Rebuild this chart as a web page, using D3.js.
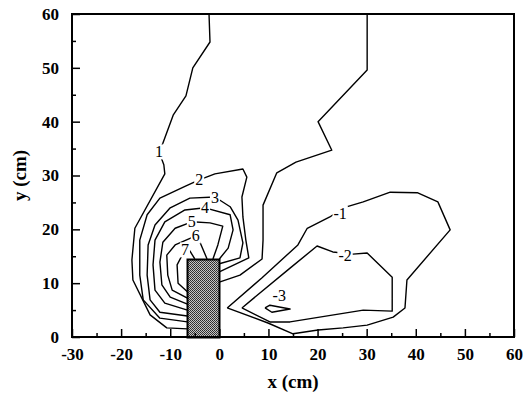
<!DOCTYPE html>
<html>
<head>
<meta charset="utf-8">
<script src="https://cdn.jsdelivr.net/npm/d3@7"></script>
<style>
  html, body { margin: 0; padding: 0; background: #fff; }
  svg { display: block; }
  text { -webkit-font-smoothing: antialiased; }
</style>
</head>
<body>
<svg id="chart" width="525" height="401"></svg>
<script>
// Axis ticks
const xTickValues = [-30, -20, -10, 0, 10, 20, 30, 40, 50, 60];
const yTickValues = [0, 10, 20, 30, 40, 50, 60];

// Obstacle block (x range and height, cm)
const blockX = [-6.5, 0];
const blockH = 14.5;

// Contour levels and their polylines [x, y] in cm
const contourLevels = [1, 1, 2, 3, 4, 5, 6, 7, -1, -2, -3];
const contour1Left = [[-2.1,60],[-1.9,54.8],[-5.4,50],[-6.8,44.8],[-9.4,41.2],[-11.5,36],[-12.3,34.4],[-11.3,32],[-11.1,30.3],[-17.2,20.2],[-17.8,14.3],[-17.6,10.6],[-14.1,4.1],[-10.7,1.7],[-6.5,1.5]];
const contour1Right = [[30.1,60],[30.1,49.6],[20.1,40],[22.9,34.7],[15.6,32.5],[11.7,30.5],[8.9,24.5],[8.9,18],[8.7,14.5],[4.2,11.5],[0,10.2]];
const contour2 = [[-6.5,2.8],[-12.1,3.5],[-15.5,6.9],[-16.2,11.5],[-16.2,18],[-14.7,22.7],[-12.1,25.8],[-7,28],[-4.1,29.2],[-0.9,30.3],[4.8,31.2],[5.6,29.7],[4.6,26],[4.8,22.3],[5.4,18],[6,14.7],[0,12.1]];
const contour3 = [[-6.5,3.9],[-12.1,4.6],[-14.1,6.9],[-14.7,11.5],[-14.5,17.1],[-13.1,20.8],[-10,24],[-6,25.8],[-0.9,26],[2.2,24.2],[3.8,21.7],[4.8,17.5],[4.2,14.7],[0,13.6]];
const contour4 = [[-6.5,5],[-11.1,6.3],[-13.1,8.7],[-13.5,13.4],[-13.1,18],[-11.1,21.4],[-7,23.6],[-2.9,24],[2.2,22.7],[2.8,19.9],[1.8,16.5],[0,14.5]];
const contour5 = [[-6.5,6.1],[-10,7.4],[-11.7,9.7],[-12.1,13.9],[-11.5,17.6],[-9,20.2],[-5.6,21.4],[-1.9,21.2],[0.7,20.6],[-0.3,17.1],[-1.3,14.5]];
const contour6 = [[-6.5,7.2],[-9.6,8.7],[-10.5,11.5],[-10.7,15.2],[-9,17.1],[-4.8,18.8],[-3.9,17.5],[-2.5,14.5]];
const contour7 = [[-6.5,8.4],[-8.4,10],[-8.6,13.4],[-7,16.2],[-6,16],[-5,14.5]];
const contourM1 = [[1.6,5.4],[9.9,2.6],[15,0.6],[20.1,1.3],[25.2,1.7],[30.1,2.2],[35.4,3.7],[37.8,5.4],[38.2,10.6],[47,19.9],[44.5,25.1],[40.3,26.8],[34.8,26.9],[29.3,25.1],[25.2,24],[22.5,22.3],[17.9,20.2],[16,17.1],[8.7,11],[1.6,5.4]];
const contourM2 = [[4.6,5.4],[10.3,2.8],[14.4,2.8],[29.3,5],[35.2,4.8],[35.2,11.1],[30.1,15.6],[27.2,15.4],[23.1,15.8],[19.9,16.9],[14.4,12.8],[4.6,5.4]];
const contourM3 = [[9.3,5.4],[10.3,5.9],[14.4,5.2],[10.7,4.6],[9.3,5.4]];

// Contour labels: text and position (cm)
const labelText = ["1", "2", "3", "4", "5", "6", "7", "-1", "-2", "-3"];
const labelX = [-12.3, -4.1, -0.9, -2.9, -5.6, -4.8, -7.0, 24.6, 25.6, 12.2];
const labelY = [34.4, 29.2, 26.0, 24.0, 21.4, 18.8, 16.2, 23.0, 15.2, 7.8];

const contourLines = [contour1Left, contour1Right, contour2, contour3, contour4,
  contour5, contour6, contour7, contourM1, contourM2, contourM3];

const svg = d3.select("#chart");
const margin = { left: 72, right: 11, top: 14, bottom: 64 };
const W = 525, H = 401;

const x = d3.scaleLinear().domain([-30, 60]).range([margin.left, W - margin.right]);
const y = d3.scaleLinear().domain([0, 60]).range([H - margin.bottom, margin.top]);

const serif = "'Liberation Serif', 'Times New Roman', serif";

// Fine checkerboard stipple for the block
const defs = svg.append("defs");
const pat = defs.append("pattern").attr("id", "stipple")
  .attr("width", 2).attr("height", 2).attr("patternUnits", "userSpaceOnUse");
pat.append("rect").attr("width", 2).attr("height", 2).attr("fill", "#c4c4c4");
pat.append("rect").attr("x", 0).attr("y", 0).attr("width", 1).attr("height", 1).attr("fill", "#2a2a2a");
pat.append("rect").attr("x", 1).attr("y", 1).attr("width", 1).attr("height", 1).attr("fill", "#3a3a3a");

const clip = defs.append("clipPath").attr("id", "plotclip");
clip.append("rect").attr("x", x(-30)).attr("y", y(60))
  .attr("width", x(60) - x(-30)).attr("height", y(0) - y(60));

// Contour lines
const line = d3.line().x(d => x(d[0])).y(d => y(d[1]));
svg.append("g").attr("clip-path", "url(#plotclip)")
  .selectAll("path").data(contourLines).join("path")
  .attr("d", line)
  .attr("fill", "none")
  .attr("stroke", "#000")
  .attr("stroke-width", 1.4)
  .attr("stroke-linejoin", "round");

// Block
svg.append("rect")
  .attr("x", Math.round(x(blockX[0])) + 0.5).attr("y", Math.round(y(blockH)) + 0.5)
  .attr("width", Math.round(x(blockX[1]) - x(blockX[0])))
  .attr("height", Math.round(y(0) - y(blockH)))
  .attr("fill", "url(#stipple)")
  .attr("stroke", "#000").attr("stroke-width", 2);

// Contour labels on white patches that break the lines
const labels = svg.append("g");
const lg = labels.selectAll("g").data(labelText).join("g")
  .attr("transform", (d, i) => `translate(${x(labelX[i])},${y(labelY[i])})`);
const lt = lg.append("text")
  .attr("text-anchor", "middle")
  .attr("dy", "0.35em")
  .attr("font-family", serif)
  .attr("font-size", 16)
  .attr("fill", "#000")
  .text(d => d);
lt.each(function () {
  const b = this.getBBox();
  d3.select(this.parentNode).insert("rect", "text")
    .attr("x", b.x - 1).attr("y", b.y + 1)
    .attr("width", b.width + 2).attr("height", b.height - 2)
    .attr("fill", "#fff");
});

// Axes with inward ticks
const fmt = d => String(d);
const xAxis = d3.axisBottom(x).tickValues(xTickValues).tickSize(-8).tickPadding(11).tickFormat(fmt);
const xMinor = d3.axisBottom(x).tickValues(d3.range(-25, 60, 10)).tickSize(-4).tickFormat("");
const yAxis = d3.axisLeft(y).tickValues(yTickValues).tickSize(-8).tickPadding(13).tickFormat(fmt);
const yMinor = d3.axisLeft(y).tickValues(d3.range(5, 60, 10)).tickSize(-4).tickFormat("");

function styleAxis(g) {
  g.select(".domain").remove();
  g.selectAll(".tick line").attr("stroke", "#000").attr("stroke-width", 1.5);
  g.selectAll(".tick text")
    .attr("font-family", serif).attr("font-weight", "bold")
    .attr("font-size", 17).attr("fill", "#000");
}

svg.append("g").attr("transform", `translate(0,${y(0)})`).call(xAxis).call(styleAxis);
svg.append("g").attr("transform", `translate(0,${y(0)})`).call(xMinor).call(styleAxis);
svg.append("g").attr("transform", `translate(${x(-30)},0)`).call(yAxis).call(styleAxis);
svg.append("g").attr("transform", `translate(${x(-30)},0)`).call(yMinor).call(styleAxis);

// Frame
svg.append("rect")
  .attr("x", x(-30)).attr("y", y(60))
  .attr("width", x(60) - x(-30)).attr("height", y(0) - y(60))
  .attr("fill", "none").attr("stroke", "#000").attr("stroke-width", 2);

// Axis titles
svg.append("text")
  .attr("x", (x(-30) + x(60)) / 2).attr("y", 388)
  .attr("text-anchor", "middle")
  .attr("font-family", serif).attr("font-weight", "bold").attr("font-size", 19)
  .text("x (cm)");

svg.append("text")
  .attr("transform", `translate(26,${(y(0) + y(60)) / 2}) rotate(-90)`)
  .attr("text-anchor", "middle")
  .attr("font-family", serif).attr("font-weight", "bold").attr("font-size", 19)
  .text("y (cm)");
</script>
</body>
</html>
